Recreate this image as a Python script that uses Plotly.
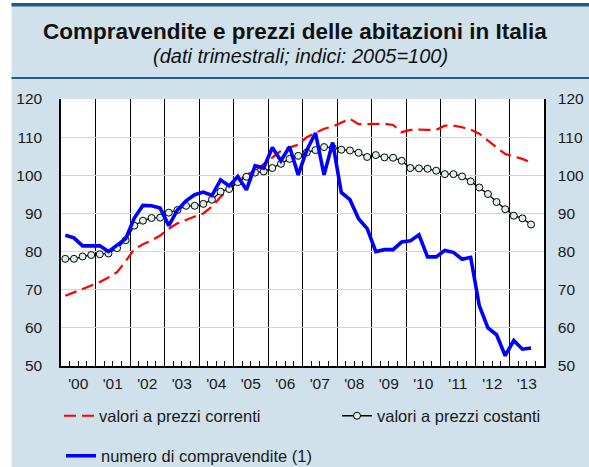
import plotly.graph_objects as go

# ---------------- data ----------------
years = list(range(2000, 2014))
year_labels = ["'00", "'01", "'02", "'03", "'04", "'05", "'06",
               "'07", "'08", "'09", "'10", "'11", "'12", "'13"]

# quarterly values, 2000Q1 .. 2013Q3
prezzi_correnti = [68.4, 69.3, 70.3, 71.2, 72.0, 73.2, 74.6, 77.5, 80.6, 81.9,
                   82.9, 84.2, 86.0, 87.4, 88.4, 89.2, 90.0, 91.8, 94.3, 96.5,
                   98.4, 100.2, 101.2, 103.0, 104.7, 106.4, 107.3, 108.0, 110.0, 111.2,
                   112.2, 112.8, 113.7, 114.8, 113.4, 113.4, 113.5, 113.5, 113.2, 111.3,
                   111.9, 112.0, 111.9, 111.9, 113.0, 113.0, 112.6, 112.0, 110.9, 109.0,
                   107.3, 105.6, 105.0, 104.3, 103.3]

prezzi_costanti = [78.1, 78.1, 78.7, 79.1, 79.3, 79.5, 80.9, 83.0, 86.8, 88.1,
                   88.8, 88.9, 90.2, 90.9, 92.0, 92.0, 92.5, 93.6, 95.7, 96.4,
                   98.2, 99.6, 100.7, 101.0, 101.9, 103.0, 104.3, 105.1, 106.0, 106.6,
                   107.4, 107.2, 106.7, 106.5, 105.9, 104.8, 105.3, 104.7, 104.6, 103.8,
                   101.9, 101.8, 101.7, 101.2, 100.3, 100.3, 99.7, 98.4, 96.8, 95.1,
                   93.0, 91.1, 89.4, 88.7, 87.1]

compravendite = [84.3, 83.6, 81.5, 81.6, 81.5, 80.0, 81.8, 83.4, 88.8, 92.1,
                 92.0, 91.4, 86.8, 90.9, 93.3, 94.9, 95.6, 94.7, 98.8, 97.2,
                 99.7, 96.2, 102.5, 101.9, 107.3, 103.8, 107.5, 100.1, 106.6, 111.1,
                 100.1, 108.6, 95.5, 93.6, 88.6, 86.0, 80.0, 80.5, 80.5, 82.5,
                 82.8, 84.4, 78.6, 78.6, 80.3, 79.8, 78.0, 78.5, 65.8, 60.0,
                 58.2, 52.7, 56.7, 54.4, 54.7]

y_ticks = [50, 60, 70, 80, 90, 100, 110, 120]

# ---------------- positions ----------------
first_year = years[0]
quarter_x = [first_year + (i + 0.5) / 4 for i in range(len(prezzi_costanti))]
year_centres = [y + 0.5 for y in years]
x_range = [years[0], years[-1] + 1]
y_range = [y_ticks[0], y_ticks[-1]]

W, H = 589, 467
ML, MR, MT, MB = 61, 45, 99, 101
PW, PH = W - ML - MR, H - MT - MB


def px(x):
    return (x - ML) / PW


def py(y):
    return (H - MB - y) / PH


FONT = "Liberation Sans, Arial, Helvetica, sans-serif"
BG = "#D0E1EB"
DARK = "#1E5D86"
TXT = "#1a1a1a"
LEG_FONT = dict(size=16.5, family=FONT, color=TXT)

fig = go.Figure()

fig.add_trace(go.Scatter(
    x=quarter_x, y=prezzi_correnti, mode="lines",
    name="valori a prezzi correnti",
    line=dict(color="#FF0000", width=2.2, dash="12px,6px"),
    legend="legend"))

fig.add_trace(go.Scatter(
    x=quarter_x, y=prezzi_costanti, mode="lines+markers",
    name="valori a prezzi costanti",
    line=dict(color="#000000", width=1.3),
    marker=dict(symbol="circle", size=7, color="#DCF2EA",
                line=dict(color="#000000", width=1)),
    legend="legend2"))

fig.add_trace(go.Scatter(
    x=quarter_x, y=compravendite, mode="lines",
    name="numero di compravendite (1)",
    line=dict(color="#0000FF", width=3.6),
    legend="legend3"))

# invisible trace to activate secondary axes (labels / right scale)
fig.add_trace(go.Scatter(
    x=x_range, y=y_range, xaxis="x2", yaxis="y2", mode="lines",
    line=dict(width=0), hoverinfo="skip", showlegend=False))

legend_common = dict(orientation="h", xanchor="left", yanchor="middle",
                     bgcolor="rgba(0,0,0,0)", borderwidth=0,
                     font=LEG_FONT, itemwidth=30)

fig.update_layout(
    width=W, height=H,
    margin=dict(l=ML, r=MR, t=MT, b=MB, pad=0, autoexpand=False),
    paper_bgcolor=BG, plot_bgcolor="white",
    font=dict(family=FONT, color=TXT, size=15.5),
    xaxis=dict(
        range=x_range, tickmode="linear", tick0=years[0], dtick=1,
        showgrid=True, gridcolor="#000000", gridwidth=1,
        ticks="inside", ticklen=5, tickcolor="#000000", tickwidth=1,
        showticklabels=False, automargin=False,
        showline=True, linecolor="#000000", linewidth=1.5,
        minor=dict(tickmode="linear", tick0=years[0], dtick=0.25,
                   ticks="inside", ticklen=5, tickcolor="#000000", tickwidth=1,
                   showgrid=False),
        zeroline=False, fixedrange=True),
    xaxis2=dict(
        range=x_range, overlaying="x", side="bottom", automargin=False,
        tickmode="array", tickvals=year_centres, ticktext=year_labels,
        ticks="", showgrid=False, showline=False, zeroline=False,
        ticklabelstandoff=6,
        tickfont=dict(size=15.5, family=FONT, color=TXT)),
    yaxis=dict(
        range=y_range, tickmode="array", tickvals=y_ticks, automargin=False,
        showgrid=True, gridcolor="#D4D4D4", gridwidth=1,
        ticks="", showline=True, linecolor="#000000", linewidth=1.5,
        zeroline=False, ticklabelstandoff=14,
        tickfont=dict(size=15.5, family=FONT, color=TXT)),
    yaxis2=dict(
        range=y_range, overlaying="y", side="right", anchor="x2",
        tickmode="array", tickvals=y_ticks, automargin=False,
        showgrid=False, ticks="", showline=True,
        linecolor="#000000", linewidth=1.5, zeroline=False,
        ticklabelstandoff=9,
        tickfont=dict(size=15.5, family=FONT, color=TXT)),
    legend=dict(x=px(59), y=py(416), **legend_common),
    legend2=dict(x=px(337), y=py(416), **legend_common),
    legend3=dict(x=px(61), y=py(456), **legend_common),
    showlegend=True,
    shapes=[
        # white strips at left and top edges
        dict(type="rect", xref="paper", yref="paper",
             x0=px(-5), x1=px(11.5), y0=py(H + 5), y1=py(-5),
             fillcolor="white", line=dict(width=0), layer="above"),
        dict(type="rect", xref="paper", yref="paper",
             x0=px(-5), x1=px(W + 5), y0=py(3), y1=py(-5),
             fillcolor="white", line=dict(width=0), layer="above"),
        # dark rules
        dict(type="rect", xref="paper", yref="paper",
             x0=px(11.5), x1=px(W + 5), y0=py(6.5), y1=py(3),
             fillcolor=DARK, line=dict(width=0), layer="above"),
        dict(type="rect", xref="paper", yref="paper",
             x0=px(11.5), x1=px(W + 5), y0=py(79), y1=py(77),
             fillcolor=DARK, line=dict(width=0), layer="above"),
    ],
    annotations=[
        dict(text="<b>Compravendite e prezzi delle abitazioni in Italia</b>",
             xref="paper", yref="paper", x=px(295), y=py(31),
             xanchor="center", yanchor="middle", showarrow=False,
             font=dict(size=22.5, family=FONT, color="#111111")),
        dict(text="<i>(dati trimestrali; indici: 2005=100)</i>",
             xref="paper", yref="paper", x=px(300), y=py(56),
             xanchor="center", yanchor="middle", showarrow=False,
             font=dict(size=20, family=FONT, color="#111111")),
    ],
)

fig.write_html(
    "out.html",
    config={"displayModeBar": False},
    post_script="document.body.style.margin='0';document.body.style.padding='0';",
)
